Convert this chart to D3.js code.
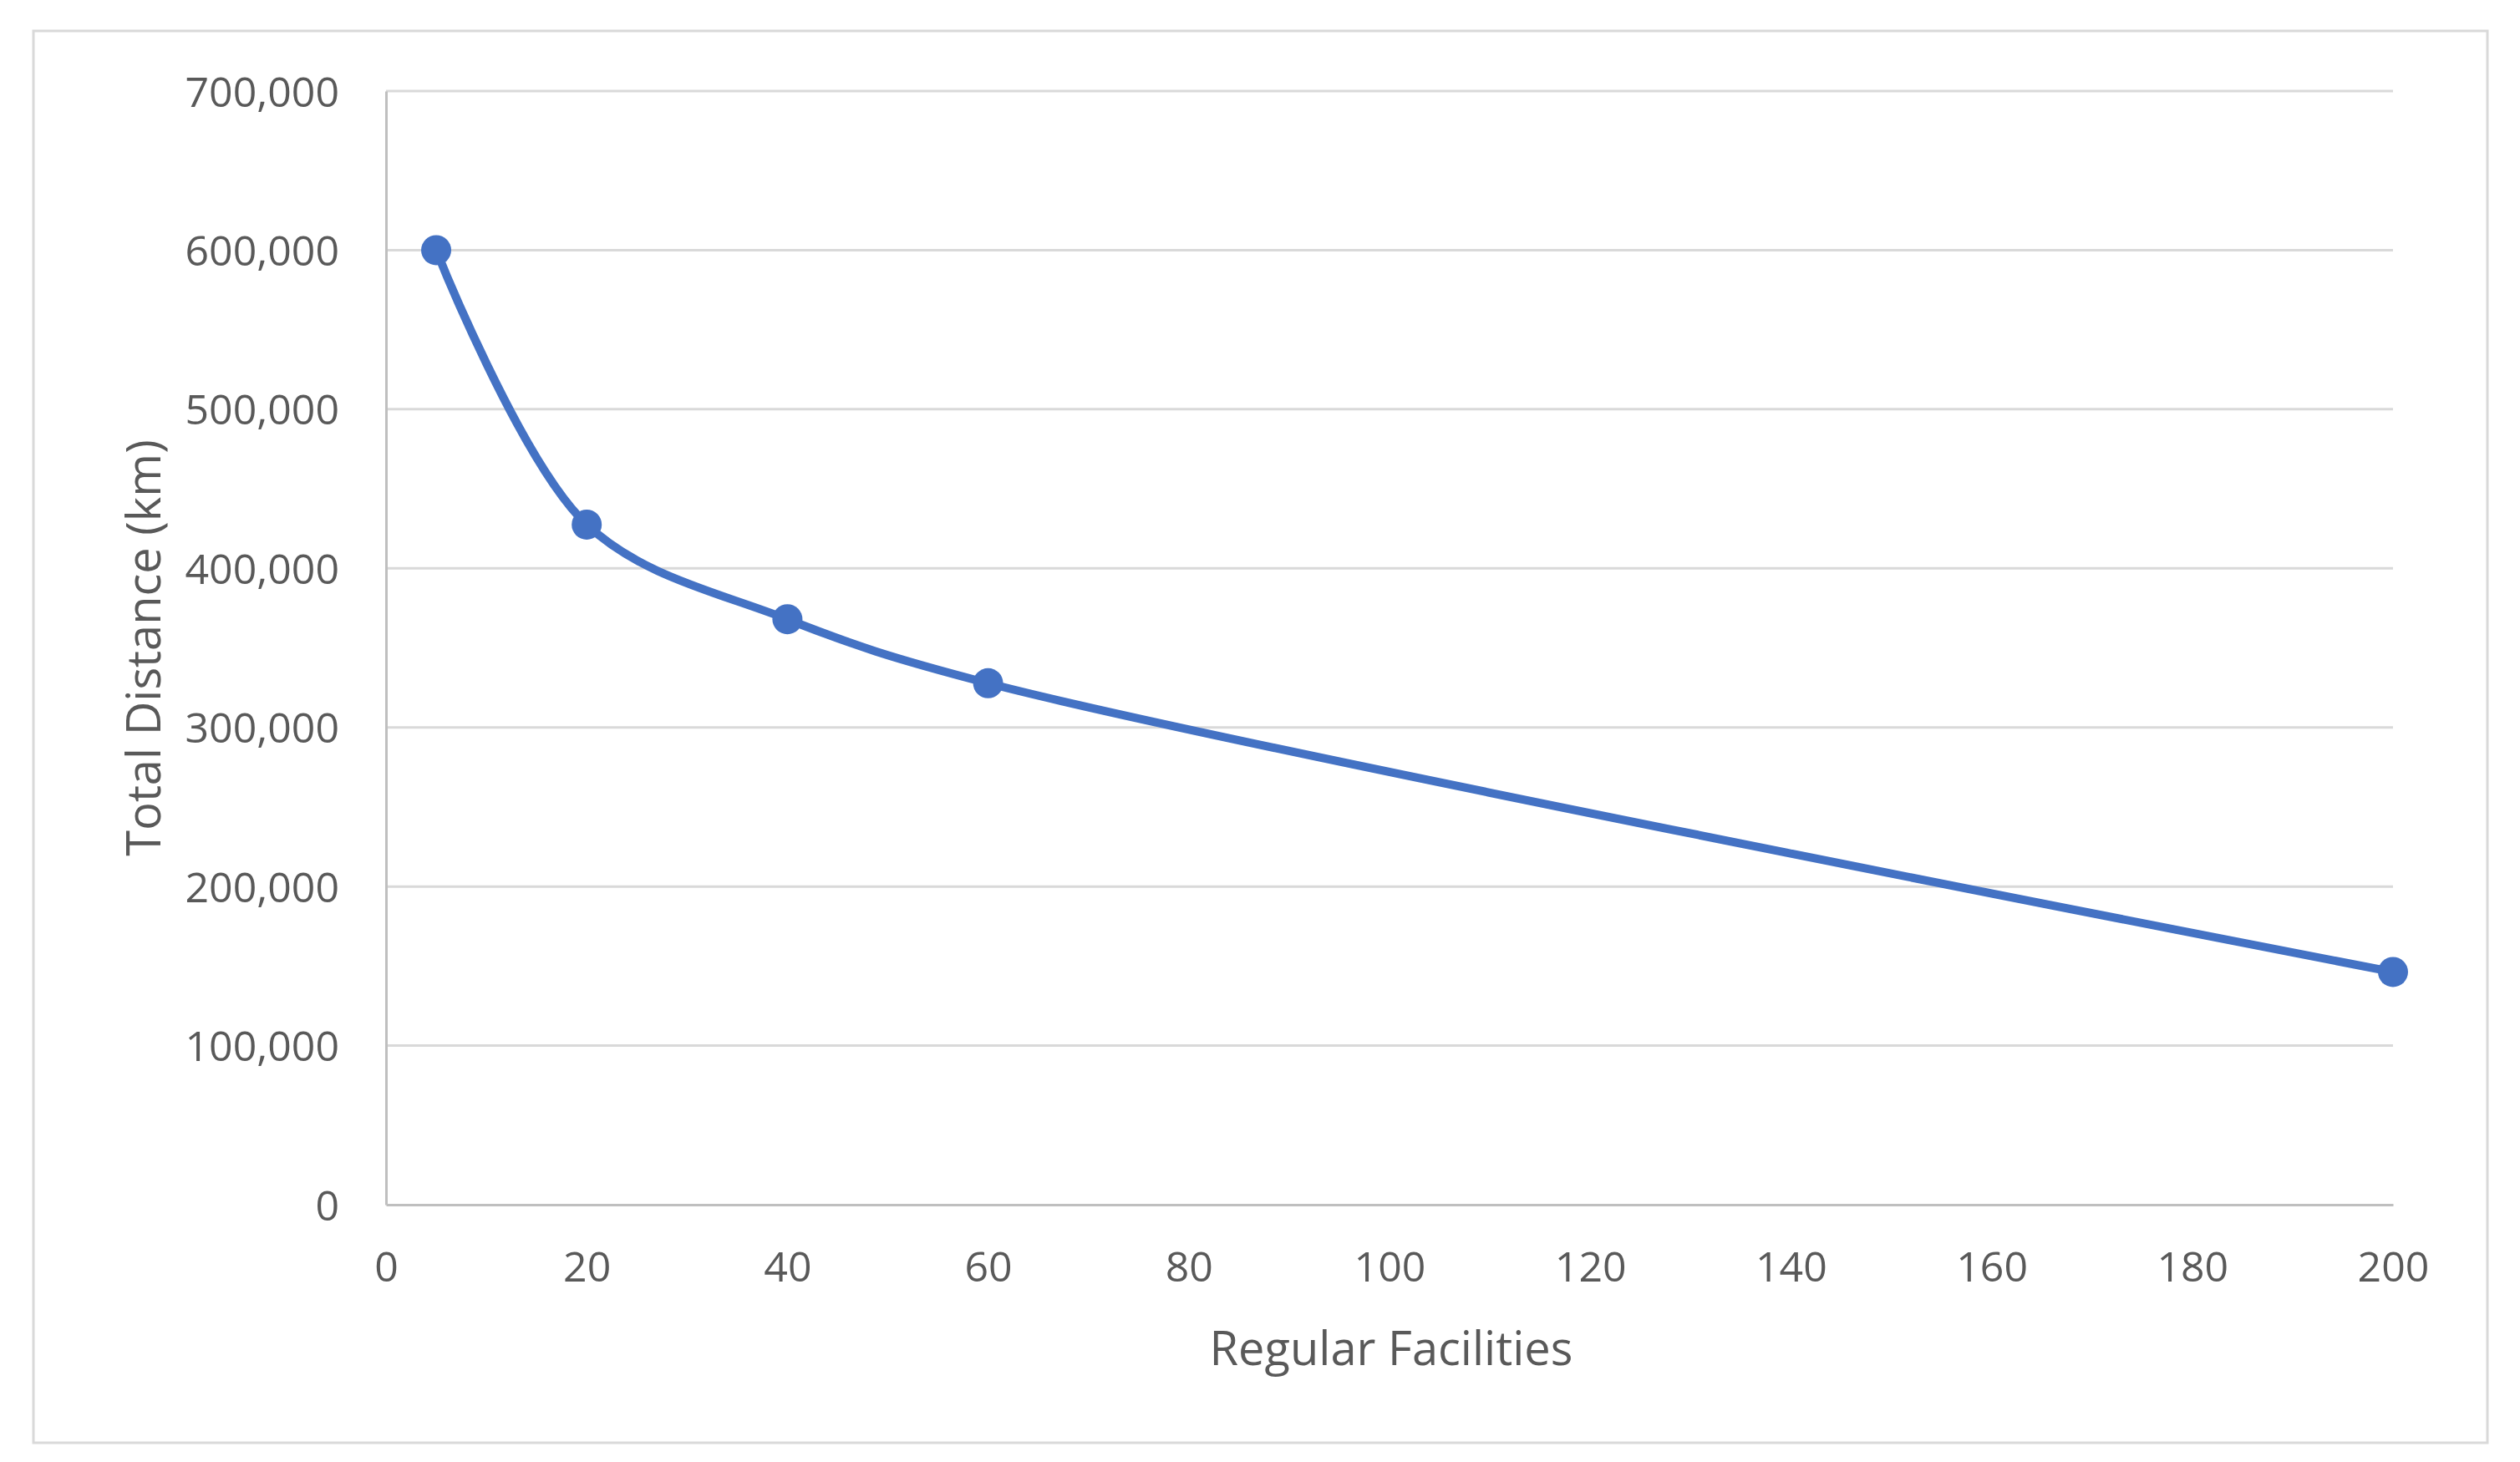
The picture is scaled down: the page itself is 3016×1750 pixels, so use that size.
<!DOCTYPE html>
<html>
<head>
<meta charset="utf-8">
<script src="https://cdn.jsdelivr.net/npm/d3@7"></script>
<style>
  html, body { margin: 0; padding: 0; background: #ffffff; }
  svg { display: block; }
  text { font-family: "Open Sans", "Noto Sans", sans-serif; fill: #595959; }
</style>
</head>
<body>
<svg id="chart" width="3016" height="1750"></svg>
<script>
// ---- data ----
const facilities = [5, 20, 40, 60, 200];
const totalDistance = [600000, 427500, 368000, 327800, 146300];
const xTicks = [0, 20, 40, 60, 80, 100, 120, 140, 160, 180, 200];
const yTicks = [0, 100000, 200000, 300000, 400000, 500000, 600000, 700000];
const xTitle = "Regular Facilities";
const yTitle = "Total Distance (km)";

// ---- layout ----
const W = 3016, H = 1750;
const plot = { left: 462, right: 2864, top: 109, bottom: 1442 };

const svg = d3.select("#chart");

// chart border
svg.append("rect")
  .attr("x", 40).attr("y", 37)
  .attr("width", 2977 - 40).attr("height", 1727 - 37)
  .attr("fill", "#ffffff")
  .attr("stroke", "#d9d9d9")
  .attr("stroke-width", 3);

const x = d3.scaleLinear().domain([0, 200]).range([plot.left, plot.right]);
const y = d3.scaleLinear().domain([0, 700000]).range([plot.bottom, plot.top]);

// gridlines
svg.append("g").selectAll("line")
  .data(yTicks.filter(d => d !== 0))
  .join("line")
  .attr("x1", plot.left).attr("x2", plot.right)
  .attr("y1", d => y(d)).attr("y2", d => y(d))
  .attr("stroke", "#d9d9d9")
  .attr("stroke-width", 3);

// y axis
const yAxis = svg.append("g")
  .attr("transform", `translate(${plot.left},0)`)
  .call(d3.axisLeft(y).tickValues(yTicks).tickFormat(d3.format(",")).tickSize(0).tickPadding(56));
yAxis.select(".domain").attr("stroke", "#bfbfbf").attr("stroke-width", 3);
yAxis.selectAll("text")
  .attr("font-size", 50)
  .attr("dy", "0.36em")
  .attr("fill", "#595959")
  .style("font-family", '"Open Sans", "Noto Sans", sans-serif');

// x axis
const xAxis = svg.append("g")
  .attr("transform", `translate(0,${plot.bottom})`)
  .call(d3.axisBottom(x).tickValues(xTicks).tickFormat(d3.format("d")).tickSize(0).tickPadding(56));
xAxis.select(".domain").attr("stroke", "#bfbfbf").attr("stroke-width", 3);
xAxis.selectAll("text")
  .attr("font-size", 50)
  .attr("fill", "#595959")
  .style("font-family", '"Open Sans", "Noto Sans", sans-serif');

// axis titles
svg.append("text")
  .attr("x", (plot.left + plot.right) / 2 + 2)
  .attr("y", 1634)
  .attr("text-anchor", "middle")
  .attr("font-size", 56)
  .text(xTitle);

svg.append("text")
  .attr("transform", `translate(192,${(plot.top + plot.bottom) / 2}) rotate(-90)`)
  .attr("text-anchor", "middle")
  .attr("font-size", 56)
  .text(yTitle);

// series
const pts = facilities.map((f, i) => [f, totalDistance[i]]);
const line = d3.line()
  .x(d => x(d[0]))
  .y(d => y(d[1]))
  .curve(d3.curveCatmullRom.alpha(0.5));

svg.append("path")
  .datum(pts)
  .attr("d", line)
  .attr("fill", "none")
  .attr("stroke", "#4472C4")
  .attr("stroke-width", 10)
  .attr("stroke-linecap", "round")
  .attr("stroke-linejoin", "round");

svg.append("g").selectAll("circle")
  .data(pts)
  .join("circle")
  .attr("cx", d => x(d[0]))
  .attr("cy", d => y(d[1]))
  .attr("r", 18)
  .attr("fill", "#4472C4");
</script>
</body>
</html>
